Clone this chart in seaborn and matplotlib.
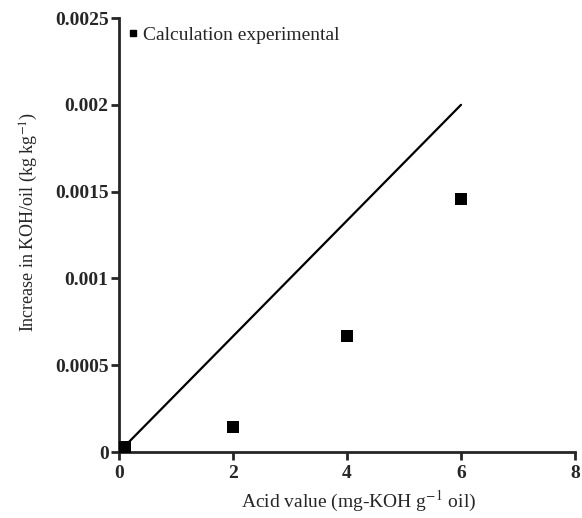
import matplotlib
matplotlib.use("Agg")
import matplotlib.pyplot as plt
import seaborn as sb
import pandas as pd
from matplotlib.lines import Line2D

# experimental points
acid_value = [0.1, 2, 4, 6]
koh_increase = [0.00003, 0.000146, 0.000668, 0.00146]

# calculated line
calc_x = [0.1, 6]
calc_y = [0.0000333, 0.002]

x_ticks = [0, 2, 4, 6, 8]
y_ticks = [0, 0.0005, 0.001, 0.0015, 0.002, 0.0025]
y_tick_labels = ["0", "0.0005", "0.001", "0.0015", "0.002", "0.0025"]

sb.set_style("ticks")
plt.rcParams['font.family'] = ['Liberation Serif', 'DejaVu Serif']
plt.rcParams['mathtext.fontset'] = 'stix'

fig = plt.figure(figsize=(5.82, 5.18), dpi=100)
ax = fig.add_axes([0.2045, 0.1274, 0.7835, 0.8378])

df_pts = pd.DataFrame({"x": acid_value, "y": koh_increase})
df_line = pd.DataFrame({"x": calc_x, "y": calc_y})

sb.lineplot(data=df_line, x="x", y="y", ax=ax, color="black", linewidth=1.6)
sb.scatterplot(data=df_pts, x="x", y="y", ax=ax, color="black", marker="s",
               s=64, edgecolor="black", linewidth=0, zorder=5, clip_on=False)

ax.set_xlim(0, 8)
ax.set_ylim(0, 0.0025)
ax.set_xticks(x_ticks)
ax.set_xticklabels([str(t) for t in x_ticks])
ax.set_yticks(y_ticks)
ax.set_yticklabels(y_tick_labels)
for lab in ax.get_xticklabels() + ax.get_yticklabels():
	lab.set_fontweight("bold")
	lab.set_fontsize(14)

sb.despine(ax=ax)
for s in ["left", "bottom"]:
	ax.spines[s].set_linewidth(2)
ax.tick_params(direction="out", length=6, width=2)
ax.tick_params(axis="y", pad=1.5)
ax.tick_params(axis="x", pad=3)

ax.set_xlabel(r"Acid value (mg-KOH g$^{-1}$ oil)", fontsize=14, labelpad=5)
ax.set_ylabel(r"Increase in KOH/oil (kg kg$^{-1}$)", fontsize=13, labelpad=11)
ax.xaxis.label.set_x(0.526)
ax.yaxis.label.set_y(0.53)

handle = Line2D([], [], color="black", marker="s", linestyle="none", markersize=5)
ax.legend([handle], ["Calculation experimental"], loc="upper left",
          bbox_to_anchor=(-0.012, 1.007), frameon=False, fontsize=14,
          handletextpad=0.1, borderaxespad=0.2, handlelength=0.8)

fig.savefig("out.png", dpi=100)
